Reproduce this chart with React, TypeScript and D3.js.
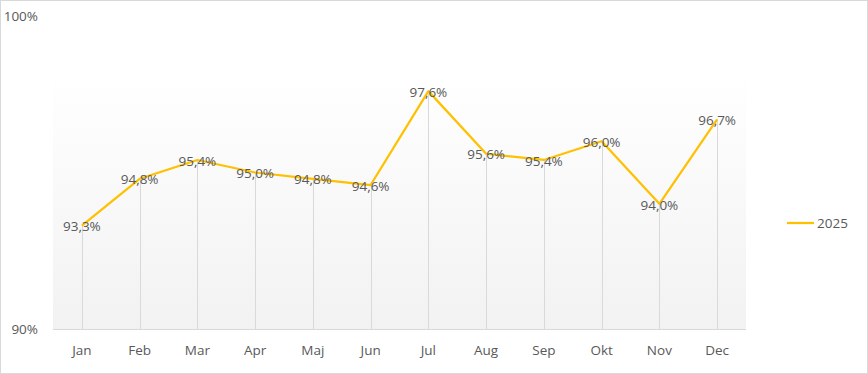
import React, { useEffect, useRef } from 'react';
import * as d3 from 'd3';

const months = ['Jan', 'Feb', 'Mar', 'Apr', 'Maj', 'Jun', 'Jul', 'Aug', 'Sep', 'Okt', 'Nov', 'Dec'];
const values2025 = [93.3, 94.8, 95.4, 95.0, 94.8, 94.6, 97.6, 95.6, 95.4, 96.0, 94.0, 96.7];
const yTicks = [90, 100];
const seriesName = '2025';

const W = 868;
const H = 374;

const App = () => {
  const svgRef = useRef<SVGSVGElement>(null);

  useEffect(() => {
    const svg = d3.select(svgRef.current)
      .attr('width', W)
      .attr('height', H);

    svg.selectAll('*').remove();

    const font = '"Open Sans", "Noto Sans", sans-serif';
    const textColor = '#595959';
    const fs = '13.5px';

    // outer frame
    svg.append('rect')
      .attr('x', 0.5).attr('y', 0.5)
      .attr('width', W - 1).attr('height', H - 1)
      .attr('fill', '#fff')
      .attr('stroke', '#d9d9d9');

    const left = 53, right = 746, bottom = 329, top = 16;

    const x = d3.scaleBand<string>()
      .domain(months)
      .range([left, right])
      .padding(0);

    const y = d3.scaleLinear()
      .domain([90, 100])
      .range([bottom, top]);

    // plot area gradient
    const defs = svg.append('defs');
    const grad = defs.append('linearGradient')
      .attr('id', 'plotGrad')
      .attr('x1', 0).attr('y1', 0).attr('x2', 0).attr('y2', 1);
    grad.append('stop').attr('offset', '0%').attr('stop-color', '#ffffff');
    grad.append('stop').attr('offset', '100%').attr('stop-color', '#f2f2f2');

    svg.append('rect')
      .attr('x', left).attr('y', 70)
      .attr('width', right - left).attr('height', bottom - 70)
      .attr('fill', 'url(#plotGrad)');

    const cx = (m: string) => (x(m) as number) + x.bandwidth() / 2;

    // drop lines
    svg.append('g')
      .selectAll('line')
      .data(values2025)
      .enter()
      .append('line')
      .attr('x1', (d, i) => Math.round(cx(months[i])) + 0.5)
      .attr('x2', (d, i) => Math.round(cx(months[i])) + 0.5)
      .attr('y1', d => y(d))
      .attr('y2', bottom)
      .attr('stroke', '#d9d9d9')
      .attr('stroke-width', 1);

    // x axis line
    svg.append('line')
      .attr('x1', left).attr('x2', right)
      .attr('y1', bottom + 0.5).attr('y2', bottom + 0.5)
      .attr('stroke', '#d9d9d9');

    // x labels
    svg.append('g')
      .selectAll('text')
      .data(months)
      .enter()
      .append('text')
      .attr('x', d => cx(d))
      .attr('y', 355)
      .attr('text-anchor', 'middle')
      .style('font-family', font)
      .style('font-size', fs)
      .style('fill', textColor)
      .text(d => d);

    // y labels
    svg.append('g')
      .selectAll('text')
      .data(yTicks)
      .enter()
      .append('text')
      .attr('x', 38)
      .attr('y', d => y(d))
      .attr('dy', '0.35em')
      .attr('text-anchor', 'end')
      .style('font-family', font)
      .style('font-size', fs)
      .style('fill', textColor)
      .text(d => d + '%');

    // line
    const line = d3.line<number>()
      .x((d, i) => cx(months[i]))
      .y(d => y(d));

    svg.append('path')
      .datum(values2025)
      .attr('d', line)
      .attr('fill', 'none')
      .attr('stroke', '#ffc000')
      .attr('stroke-width', 2.25)
      .attr('stroke-linejoin', 'round');

    // data labels
    svg.append('g')
      .selectAll('text')
      .data(values2025)
      .enter()
      .append('text')
      .attr('x', (d, i) => cx(months[i]))
      .attr('y', d => y(d) + 1)
      .attr('dy', '0.35em')
      .attr('text-anchor', 'middle')
      .style('font-family', font)
      .style('font-size', fs)
      .style('fill', textColor)
      .text(d => d.toFixed(1).replace('.', ',') + '%');

    // legend
    const lg = svg.append('g');
    lg.append('line')
      .attr('x1', 787).attr('x2', 814)
      .attr('y1', 223).attr('y2', 223)
      .attr('stroke', '#ffc000')
      .attr('stroke-width', 2.25);
    lg.append('text')
      .attr('x', 817)
      .attr('y', 223)
      .attr('dy', '0.35em')
      .style('font-family', font)
      .style('font-size', fs)
      .style('fill', textColor)
      .text(seriesName);
  }, []);

  return <svg ref={svgRef} style={{ position: 'absolute', left: 0, top: 0, display: 'block' }}></svg>;
};

export default App;
